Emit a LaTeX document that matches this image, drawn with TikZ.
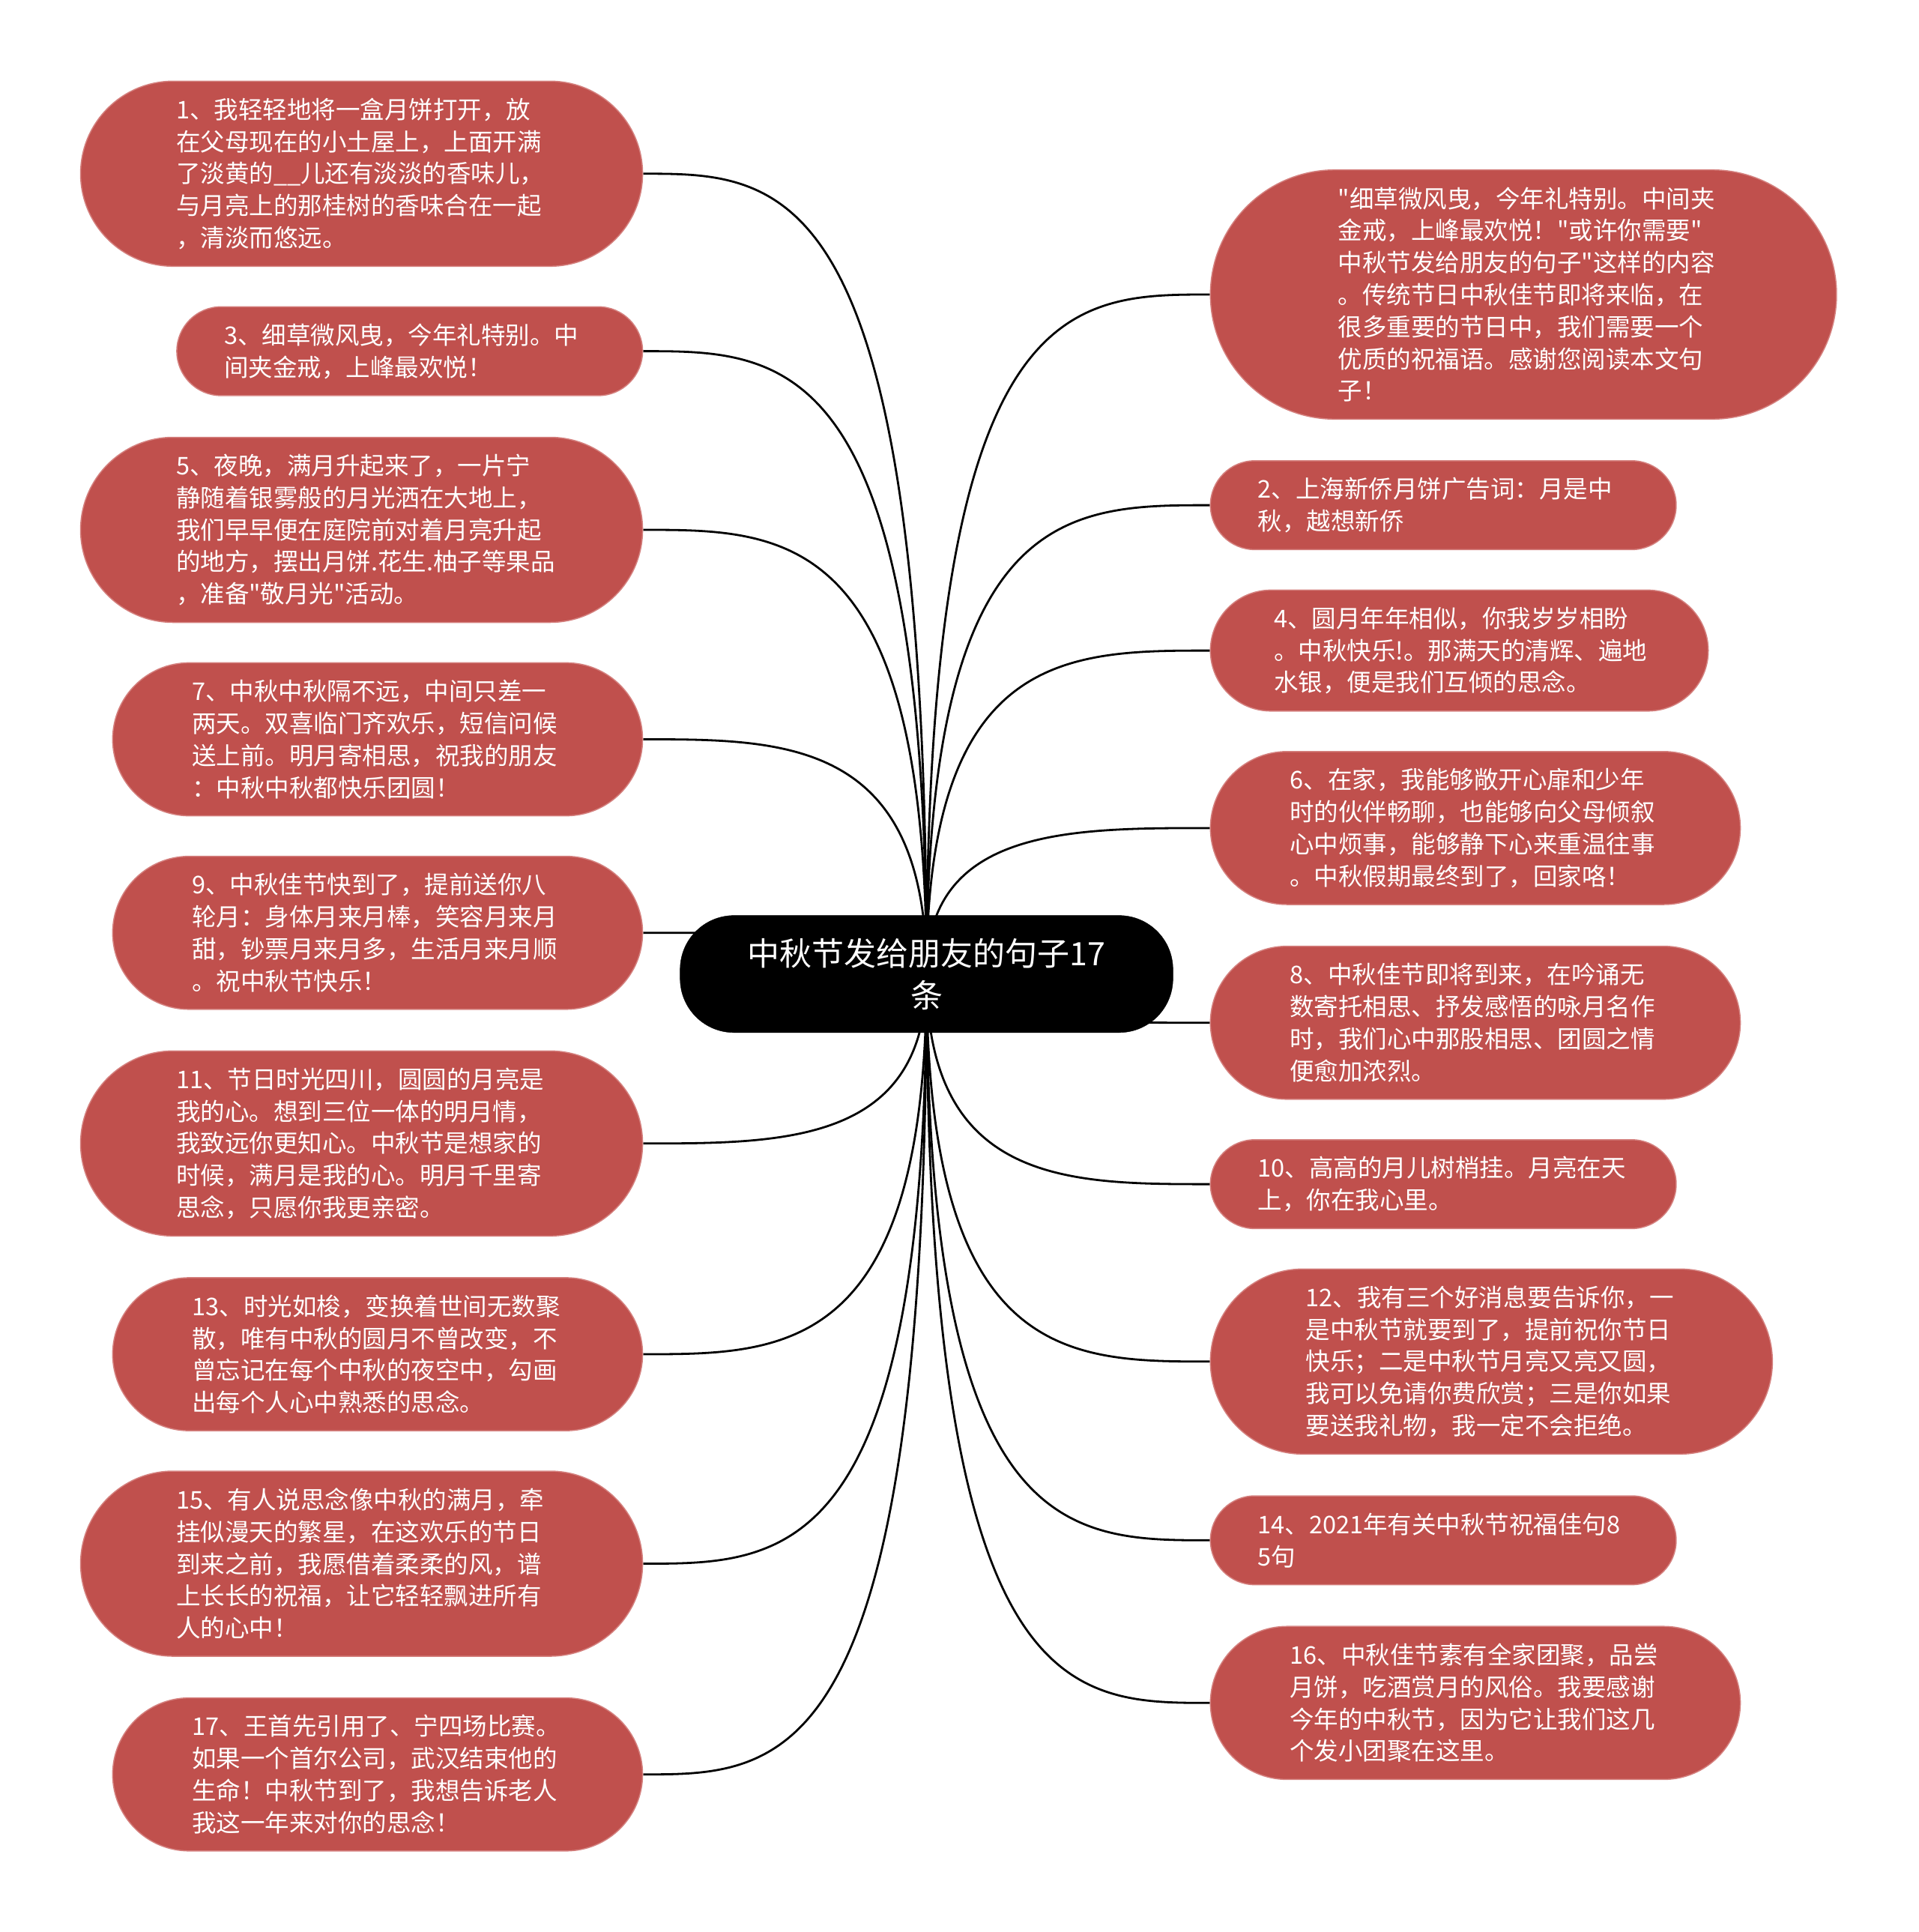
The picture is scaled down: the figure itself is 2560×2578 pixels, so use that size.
\documentclass[tikz,border=0pt]{standalone}
\usepackage{fontspec}
\newfontfamily\cjk{Noto Sans CJK SC}
\usetikzlibrary{calc}
\pgfdeclarelayer{background}
\pgfsetlayers{background,main}
\definecolor{nodered}{RGB}{192,80,77}
\definecolor{nodeedge}{RGB}{212,128,126}
\tikzset{
  leaf/.style={fill=nodered, draw=nodeedge, line width=1.5pt, text=white,
    font=\cjk\fontsize{32.5}{42.8}\selectfont, align=left, text width=495pt,
    inner sep=0pt, minimum height=#1, minimum width=503pt+#1,
    rounded corners=#1/2},
  hub/.style={fill=black, draw=black, text=white,
    font=\cjk\fontsize{43}{56}\selectfont, align=center,
    inner sep=0pt, minimum width=657.7pt, minimum height=156.2pt,
    rounded corners=72pt},
  conn/.style={draw=black, line width=2.8pt}
}
\newcommand\mmlinkL[1]{\draw[conn] (c.center) .. controls (c.center |- #1.east) and ($(c.center |- #1.east)!0.5!(#1.east)$) .. (#1.east);}
\newcommand\mmlinkR[1]{\draw[conn] (c.center) .. controls (c.center |- #1.west) and ($(c.center |- #1.west)!0.5!(#1.west)$) .. (#1.west);}
\begin{document}
\begin{tikzpicture}[x=1pt,y=-1pt]
\useasboundingbox (0,0) rectangle (2560,2578);
\node[hub] (c) at (1236.5,1299.7) {中秋节发给朋友的句子17\\条};
% left
\node[leaf=247pt, anchor=east] (n1) at (858.3,231.8) {1、我轻轻地将一盒月饼打开，放\\在父母现在的小土屋上，上面开满\\了淡黄的\textunderscore\textunderscore 儿还有淡淡的香味儿，\\与月亮上的那桂树的香味合在一起\\，清淡而悠远。};
\node[leaf=118.6pt, anchor=east] (n3) at (858.3,468.6) {3、细草微风曳，今年礼特别。中\\间夹金戒，上峰最欢悦！};
\node[leaf=247pt, anchor=east] (n5) at (858.3,707) {5、夜晚，满月升起来了，一片宁\\静随着银雾般的月光洒在大地上，\\我们早早便在庭院前对着月亮升起\\的地方，摆出月饼.花生.柚子等果品\\，准备"敬月光"活动。};
\node[leaf=204.2pt, anchor=east] (n7) at (858.3,986.5) {7、中秋中秋隔不远，中间只差一\\两天。双喜临门齐欢乐，短信问候\\送上前。明月寄相思，祝我的朋友\\：中秋中秋都快乐团圆！};
\node[leaf=204.2pt, anchor=east] (n9) at (858.3,1244.7) {9、中秋佳节快到了，提前送你八\\轮月：身体月来月棒，笑容月来月\\甜，钞票月来月多，生活月来月顺\\。祝中秋节快乐！};
\node[leaf=247pt, anchor=east] (n11) at (858.3,1525.8) {11、节日时光四川，圆圆的月亮是\\我的心。想到三位一体的明月情，\\我致远你更知心。中秋节是想家的\\时候，满月是我的心。明月千里寄\\思念，只愿你我更亲密。};
\node[leaf=204.2pt, anchor=east] (n13) at (858.3,1807) {13、时光如梭，变换着世间无数聚\\散，唯有中秋的圆月不曾改变，不\\曾忘记在每个中秋的夜空中，勾画\\出每个人心中熟悉的思念。};
\node[leaf=247pt, anchor=east] (n15) at (858.3,2086.5) {15、有人说思念像中秋的满月，牵\\挂似漫天的繁星，在这欢乐的节日\\到来之前，我愿借着柔柔的风，谱\\上长长的祝福，让它轻轻飘进所有\\人的心中！};
\node[leaf=204.2pt, anchor=east] (n17) at (858.3,2367.7) {17、王首先引用了、宁四场比赛。\\如果一个首尔公司，武汉结束他的\\生命！中秋节到了，我想告诉老人\\我这一年来对你的思念！};
% right
\node[leaf=332.6pt, anchor=west] (nt) at (1614.6,393) {"细草微风曳，今年礼特别。中间夹\\金戒，上峰最欢悦！"或许你需要"\\中秋节发给朋友的句子"这样的内容\\。传统节日中秋佳节即将来临，在\\很多重要的节日中，我们需要一个\\优质的祝福语。感谢您阅读本文句\\子！};
\node[leaf=118.6pt, anchor=west] (n2) at (1614.6,674.1) {2、上海新侨月饼广告词：月是中\\秋，越想新侨};
\node[leaf=161.4pt, anchor=west] (n4) at (1614.6,868.1) {4、圆月年年相似，你我岁岁相盼\\。中秋快乐!。那满天的清辉、遍地\\水银，便是我们互倾的思念。};
\node[leaf=204.2pt, anchor=west] (n6) at (1614.6,1104.9) {6、在家，我能够敞开心扉和少年\\时的伙伴畅聊，也能够向父母倾叙\\心中烦事，能够静下心来重温往事\\。中秋假期最终到了，回家咯！};
\node[leaf=204.2pt, anchor=west] (n8) at (1614.6,1364.7) {8、中秋佳节即将到来，在吟诵无\\数寄托相思、抒发感悟的咏月名作\\时，我们心中那股相思、团圆之情\\便愈加浓烈。};
\node[leaf=118.6pt, anchor=west] (n10) at (1614.6,1580.1) {10、高高的月儿树梢挂。月亮在天\\上，你在我心里。};
\node[leaf=247pt, anchor=west] (n12) at (1614.6,1816.8) {12、我有三个好消息要告诉你，一\\是中秋节就要到了，提前祝你节日\\快乐；二是中秋节月亮又亮又圆，\\我可以免请你费欣赏；三是你如果\\要送我礼物，我一定不会拒绝。};
\node[leaf=118.6pt, anchor=west] (n14) at (1614.6,2055.3) {14、2021年有关中秋节祝福佳句8\\5句};
\node[leaf=204.2pt, anchor=west] (n16) at (1614.6,2272.3) {16、中秋佳节素有全家团聚，品尝\\月饼，吃酒赏月的风俗。我要感谢\\今年的中秋节，因为它让我们这几\\个发小团聚在这里。};
\begin{pgfonlayer}{background}
\mmlinkL{n1}\mmlinkL{n3}\mmlinkL{n5}\mmlinkL{n7}\mmlinkL{n9}
\mmlinkL{n11}\mmlinkL{n13}\mmlinkL{n15}\mmlinkL{n17}
\mmlinkR{nt}\mmlinkR{n2}\mmlinkR{n4}\mmlinkR{n6}\mmlinkR{n8}
\mmlinkR{n10}\mmlinkR{n12}\mmlinkR{n14}\mmlinkR{n16}
\end{pgfonlayer}
\end{tikzpicture}
\end{document}
